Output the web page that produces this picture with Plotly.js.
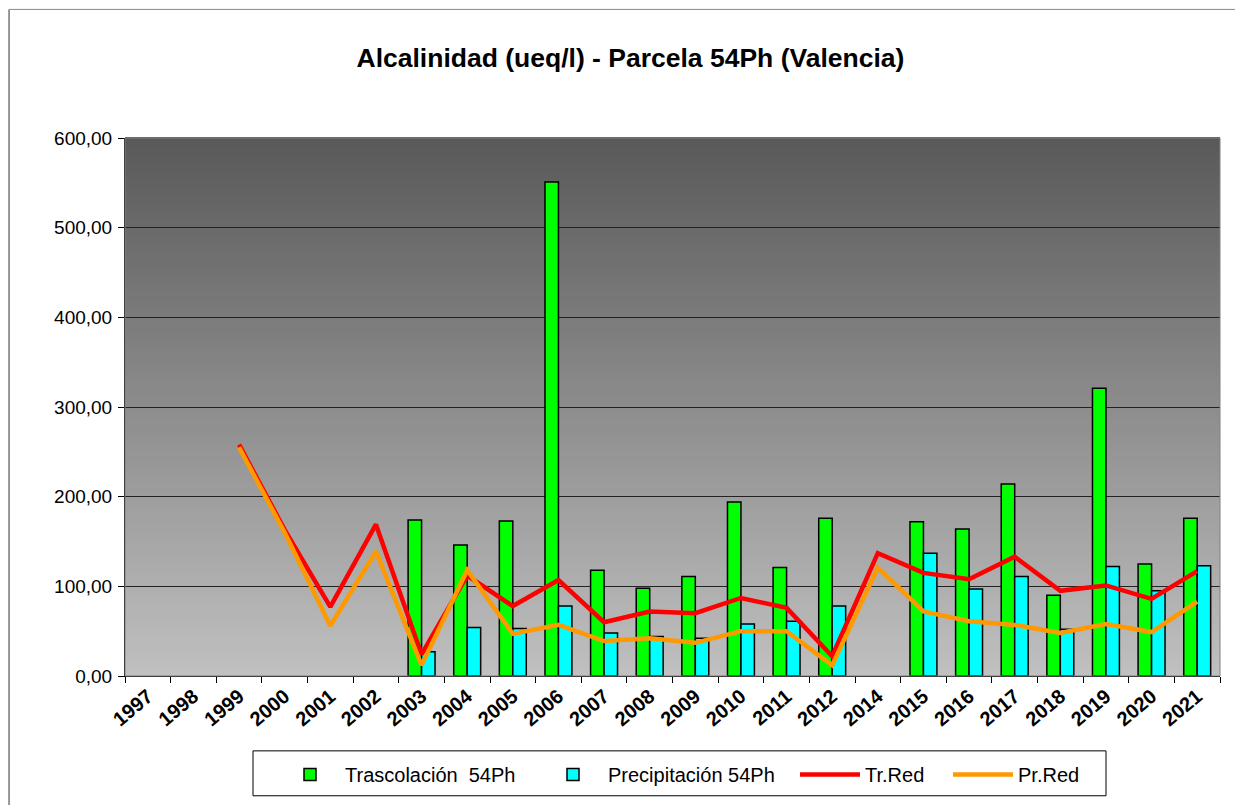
<!DOCTYPE html>
<html>
<head>
<meta charset="utf-8">
<script src="https://cdn.plot.ly/plotly-3.0.1.min.js"></script>
<style>html,body{margin:0;padding:0;background:#fff;}#chart{width:1235px;height:805px;}</style>
</head>
<body>
<div id="chart"></div>
<script>
var years = ['1997','1998','1999','2000','2001','2002','2003','2004','2005','2006','2007','2008','2009','2010','2011','2012','2014','2015','2016','2017','2018','2019','2020','2021'];
var trascolacion = [null,null,null,null,null,null,174,146,173,551,118,98,111,194,121,176,null,172,164,214,90,321,125,176];
var precipitacion = [null,null,null,null,null,null,27,54,53,78,48,44,42,58,61,78,null,137,97,111,52,122,95,123];
var trRed = [null,null,258,163,77,169,24,112,78,107,60,72,70,87,76,22,137,115,108,133,95,101,86,117];
var prRed = [null,null,255,160,56,139,12,118,47,57,39,42,37,50,50,12,121,72,61,57,48,58,49,83];

var FONT = 'Arial, "Liberation Sans", sans-serif';

var traces = [
  {type:'bar', name:'Trascolación\u00a0 54Ph', x:years, y:trascolacion, legendwidth:188,
   marker:{color:'#00ff00', line:{color:'#000000', width:1.5}}},
  {type:'bar', name:'Precipitación 54Ph', x:years, y:precipitacion, legendwidth:182,
   marker:{color:'#00ffff', line:{color:'#000000', width:1.5}}},
  {type:'scatter', mode:'lines', name:'Tr.Red', x:years, y:trRed, legendwidth:78,
   line:{color:'#ff0000', width:4.5}},
  {type:'scatter', mode:'lines', name:'Pr.Red', x:years, y:prRed,
   line:{color:'#ff9900', width:4.5}}
];

// background gradient of plot area
var shapes = [];
var N = 120;
function lerp(a,b,t){return Math.round(a+(b-a)*t);}
for (var i=0;i<N;i++){
  var t = (i+0.5)/N; // 0 bottom -> 1 top
  var c = lerp(192, 89, t);
  shapes.push({type:'rect', xref:'paper', yref:'paper', x0:0, x1:1, y0:i/N, y1:(i+1)/N+0.002,
    fillcolor:'rgb('+c+','+c+','+c+')', line:{width:0}, layer:'below'});
}
shapes.push({type:'rect', xref:'paper', yref:'paper', x0:0, x1:1, y0:0, y1:1,
  line:{color:'#808080', width:1}, layer:'above'});
// outer chart frame
shapes.push({type:'line', xref:'paper', yref:'paper', x0:-0.1059, x1:-0.1059, y0:1.239, y1:-0.24,
  line:{color:'#333333', width:1}});
shapes.push({type:'line', xref:'paper', yref:'paper', x0:-0.1059, x1:1.02, y0:1.239, y1:1.239,
  line:{color:'#888888', width:1}});
// legend frame
shapes.push({type:'rect', xref:'paper', yref:'paper', x0:(253-125)/1095, x1:(1106-125)/1095,
  y0:(677-797)/539, y1:(677-752)/539, line:{color:'#000000', width:1}, fillcolor:'rgba(0,0,0,0)'});

var layout = {
  width:1235, height:805,
  margin:{l:125, r:15, t:138, b:128, pad:0},
  paper_bgcolor:'#ffffff',
  plot_bgcolor:'rgba(0,0,0,0)',
  separators:',.',
  title:{text:'Alcalinidad (ueq/l) - Parcela 54Ph (Valencia)', font:{family:FONT, size:26.5, color:'#000', weight:'bold'},
    xref:'container', x:0.5105, xanchor:'center', yref:'container', y:1-58/805, yanchor:'middle'},
  barmode:'group', bargap:0.41, bargroupgap:0,
  showlegend:true,
  legend:{orientation:'h', x:(275-125)/1095, xanchor:'left', y:(677-755)/539, yanchor:'top',
    font:{family:FONT, size:20, color:'#000'}, bgcolor:'rgba(0,0,0,0)', borderwidth:0,
    traceorder:'normal', itemwidth:60},
  xaxis:{type:'category', tickson:'boundaries', ticks:'outside', ticklen:6, tickcolor:'#000',
    showline:true, linecolor:'#000', linewidth:1, showgrid:false, tickangle:-40,
    tickfont:{family:FONT, size:20, color:'#000', weight:'bold'}, automargin:false},
  yaxis:{range:[0,600], dtick:100, tick0:0, tickformat:'.2f', ticks:'outside', ticklen:6, tickcolor:'#000',
    showline:true, linecolor:'#000', linewidth:1, showgrid:true, gridcolor:'#222222', gridwidth:1,
    zeroline:false, tickfont:{family:FONT, size:19, color:'#000'}, ticklabelstandoff:2, automargin:false}
};
layout.shapes = shapes;

Plotly.newPlot('chart', traces, layout, {displayModeBar:false, staticPlot:true});
</script>
</body>
</html>
